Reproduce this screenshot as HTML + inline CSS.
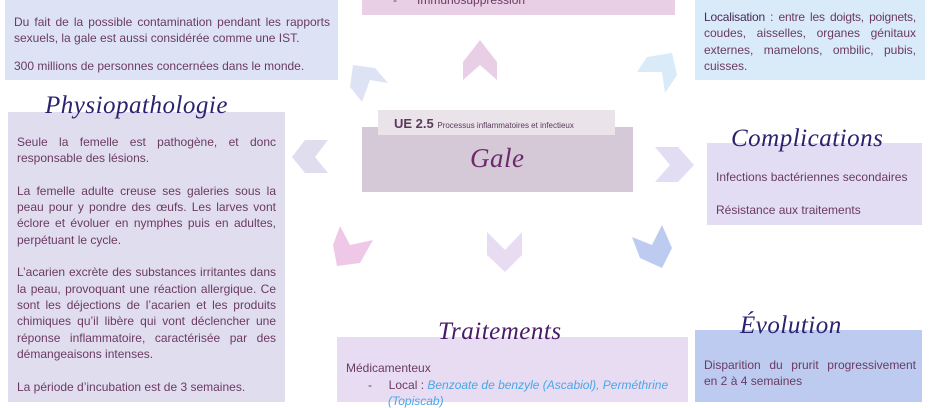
<!DOCTYPE html>
<html><head><meta charset="utf-8"><style>
*{margin:0;padding:0;box-sizing:border-box}
body{width:940px;height:400px;overflow:hidden;background:#fff;position:relative;font-family:"Liberation Sans",sans-serif;color:#6b3a62;font-size:12px}
.b{position:absolute}
.t{position:absolute;font-family:"Liberation Serif",serif;font-style:italic;color:#2b2370;font-size:25px;letter-spacing:0.5px;z-index:5;white-space:nowrap}
.l{position:absolute;white-space:nowrap;z-index:4}
.j{text-align:justify;text-align-last:justify;white-space:normal}
</style></head><body>
<svg class="b" style="left:0;top:0" width="940" height="400">
<polygon points="350,87 353,65 375,68 388,83 370,80 362,102" fill="#dde3f5"/>
<polygon points="463,62 480,40 497,62 497,80 480,65 463,80" fill="#e8cfe6"/>
<polygon points="637,72 647,57 672,53 677,75 665,93 662,72" fill="#d9eaf8"/>
<polygon points="292,157 305,140 328,140 315,157 328,173 305,173" fill="#e0ddef"/>
<polygon points="655,147 678,147 694,165 678,182 655,182 670,165" fill="#e2ddf3"/>
<polygon points="340,226 350,245 373,240 360,263 337,266 333,245" fill="#efc8e8"/>
<polygon points="487,232 505,250 522,232 522,255 505,272 487,255" fill="#e8dcf3"/>
<polygon points="632,237 652,245 662,225 672,248 662,268 640,258" fill="#bccbef"/>
</svg>
<div class="b" style="left:5px;top:0;width:333px;height:80px;background:#dde3f5"></div>
<div class="l j" style="left:14px;top:15px;width:316px">Du fait de la possible contamination pendant les rapports</div>
<div class="l" style="left:14px;top:31px">sexuels, la gale est aussi considérée comme une IST.</div>
<div class="l" style="left:14px;top:59px">300 millions de personnes concernées dans le monde.</div>

<div class="b" style="left:362px;top:0;width:313px;height:15px;background:#e8cfe6"></div>
<div class="l" style="left:393px;top:-7px">-&nbsp;&nbsp;&nbsp;&nbsp;&nbsp;&nbsp;Immunosuppression</div>

<div class="b" style="left:695px;top:0;width:230px;height:80px;background:#d9eaf8"></div>
<div class="l j" style="left:704px;top:10px;width:212px;letter-spacing:-0.2px"><span style="color:#4a2a5a">Localisation</span> : entre les doigts, poignets,</div>
<div class="l j" style="left:704px;top:26px;width:212px">coudes, aisselles, organes génitaux</div>
<div class="l j" style="left:704px;top:43px;width:212px">externes, mamelons, ombilic, pubis,</div>
<div class="l" style="left:704px;top:59px">cuisses.</div>

<div class="b" style="left:8px;top:112px;width:277px;height:290px;background:#e0ddef"></div>
<div class="t" style="left:45px;top:92px">Physiopathologie</div>
<div class="l j" style="left:17px;top:135px;width:259px">Seule la femelle est pathogène, et donc</div>
<div class="l" style="left:17px;top:151px">responsable des lésions.</div>
<div class="l j" style="left:17px;top:184px;width:259px">La femelle adulte creuse ses galeries sous la</div>
<div class="l j" style="left:17px;top:200px;width:259px">peau pour y pondre des œufs. Les larves vont</div>
<div class="l j" style="left:17px;top:216px;width:259px">éclore et évoluer en nymphes puis en adultes,</div>
<div class="l" style="left:17px;top:233px">perpétuant le cycle.</div>
<div class="l j" style="left:17px;top:265px;width:259px">L’acarien excrète des substances irritantes dans</div>
<div class="l j" style="left:17px;top:282px;width:259px">la peau, provoquant une réaction allergique. Ce</div>
<div class="l j" style="left:17px;top:298px;width:259px">sont les déjections de l’acarien et les produits</div>
<div class="l j" style="left:17px;top:314px;width:259px">chimiques qu’il libère qui vont déclencher une</div>
<div class="l j" style="left:17px;top:331px;width:259px">réponse inflammatoire, caractérisée par des</div>
<div class="l" style="left:17px;top:347px">démangeaisons intenses.</div>
<div class="l" style="left:17px;top:380px">La période d’incubation est de 3 semaines.</div>

<div class="b" style="left:362px;top:127px;width:271px;height:65px;background:#d5c9d8"></div>
<div class="b" style="left:378px;top:110px;width:237px;height:25px;background:#ebe3ea"></div>
<div class="l" style="left:394px;top:116px;font-size:13px;font-weight:bold;color:#5a3a5a">UE 2.5 <span style="font-size:8px;font-weight:normal">Processus inflammatoires et infectieux</span></div>
<div class="t" style="left:470px;top:143px;color:#6b2a6a;font-size:27px">Gale</div>

<div class="b" style="left:707px;top:143px;width:215px;height:82px;background:#e2ddf3"></div>
<div class="t" style="left:731px;top:125px">Complications</div>
<div class="l" style="left:716px;top:170px">Infections bactériennes secondaires</div>
<div class="l" style="left:716px;top:203px">Résistance aux traitements</div>

<div class="b" style="left:337px;top:337px;width:351px;height:65px;background:#e8dcf3"></div>
<div class="t" style="left:438px;top:318px;color:#4a1a6a">Traitements</div>
<div class="l" style="left:346px;top:361px">Médicamenteux</div>
<div class="l" style="left:368px;top:378px">-&nbsp;&nbsp;&nbsp;&nbsp;&nbsp;Local : <i style="color:#4aa6e8">Benzoate de benzyle (Ascabiol), Perméthrine</i></div>
<div class="l" style="left:388px;top:394px"><i style="color:#4aa6e8">(Topiscab)</i></div>

<div class="b" style="left:695px;top:330px;width:227px;height:72px;background:#bccbef"></div>
<div class="t" style="left:740px;top:312px">Évolution</div>
<div class="l j" style="left:704px;top:358px;width:212px">Disparition du prurit progressivement</div>
<div class="l" style="left:704px;top:374px">en 2 à 4 semaines</div>
</body></html>
